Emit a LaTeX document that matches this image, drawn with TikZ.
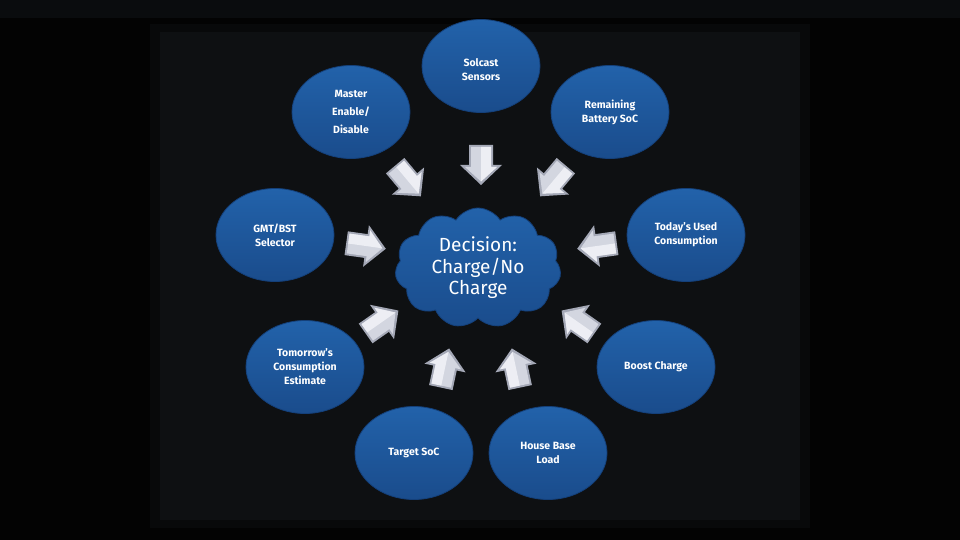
\documentclass[tikz,border=0pt]{standalone}
\usepackage{fontspec}
\setmainfont{Fira Sans}
\usetikzlibrary{shapes.geometric,shapes.symbols}
\definecolor{bg}{HTML}{030303}
\definecolor{panel}{HTML}{0E1012}
\definecolor{panelB}{HTML}{08090A}
\definecolor{topbar}{HTML}{0A0C0E}
\definecolor{blueA}{HTML}{2262AA}
\definecolor{blueB}{HTML}{1A4C8C}
\definecolor{blueE}{HTML}{14407A}
\definecolor{arrL}{HTML}{F4F5FA}
\definecolor{arrM}{HTML}{D3D6E0}
\definecolor{arrD}{HTML}{A4A8B6}
\begin{document}
\begin{tikzpicture}[x=1pt,y=-1pt,
  inputnode/.style={ellipse, minimum width=118pt, minimum height=93pt, inner sep=0pt,
    top color=blueA, bottom color=blueB, draw=blueE, line width=0.8pt,
    text=white, align=center, font=\bfseries\fontsize{10.5}{14}\selectfont},
  decisionnode/.style={cloud, cloud puffs=11, cloud puff arc=115, aspect=1.35,
    minimum width=166pt, minimum height=120pt, inner sep=0pt,
    top color=blueA, bottom color=blueB, draw=blueE, line width=0.8pt,
    text=white, align=center, font=\fontsize{19}{21.5}\selectfont},
  barrow/.pic={
    \fill[arrD] (-20,-12) -- (0,-12) -- (0,-21) -- (20,0) -- (0,21) -- (0,12) -- (-20,12) -- cycle;
    \fill[arrM] (-18,-10) -- (2,-10) -- (2,-16) -- (16.5,0) -- (2,16) -- (2,10) -- (-18,10) -- cycle;
    \fill[arrL, opacity=0.8] (-18,-10) -- (2,-10) -- (2,-16) -- (16.5,0) -- (-18,0) -- cycle;
  }]
\useasboundingbox (0,0) rectangle (960,540);
% blurred dashboard background
\fill[bg] (0,0) rectangle (960,540);
\fill[topbar] (0,0) rectangle (960,18);
\fill[panelB] (150,24) rectangle (810,528);
\fill[panel] (160,32) rectangle (800,520);

% input nodes
\node[inputnode] (solcast) at (481,66) {\\[1pt]Solcast\\Sensors};
\node[inputnode] (master) at (351,112) {Master\\[4pt]Enable/\\[4pt]Disable};
\node[inputnode] (remain) at (610,112) {Remaining\\Battery SoC};
\node[inputnode] (gmt) at (275,235) {GMT/BST\\Selector};
\node[inputnode] (today) at (686,235) {Today's Used\\Consumption};
\node[inputnode] (tomorrow) at (305,367) {Tomorrow's\\Consumption\\Estimate};
\node[inputnode] (boost) at (656,367) {Boost Charge};
\node[inputnode] (target) at (414,453) {Target SoC};
\node[inputnode] (house) at (548,453) {House Base\\Load};

% decision cloud
\node[decisionnode] (decision) at (478,268) {Decision:\\Charge/No\\Charge};

% block arrows
\pic[rotate=-90] at (481,165) {barrow};
\pic[rotate=-50] at (408,181) {barrow};
\pic[rotate=-130] at (553,181) {barrow};
\pic[rotate=-8] at (366,246) {barrow};
\pic[rotate=-172] at (597,246) {barrow};
\pic[rotate=35] at (382,322) {barrow};
\pic[rotate=145] at (578,322) {barrow};
\pic[rotate=78] at (445,368) {barrow};
\pic[rotate=102] at (516,368) {barrow};
\end{tikzpicture}
\end{document}
